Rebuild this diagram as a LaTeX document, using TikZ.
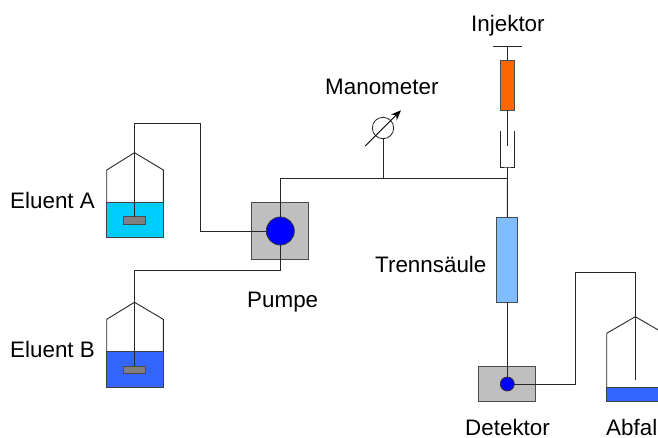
\documentclass[tikz,border=0pt]{standalone}
\usepackage{fontspec}
\setmainfont{Liberation Sans}
\usetikzlibrary{arrows.meta}
\tikzset{
  tube/.style={draw=black!85, line width=0.9pt, line join=miter},
  box/.style={draw=black!70, line width=1pt, inner sep=0pt, outer sep=0pt, rectangle},
  unit/.style={box, fill=black!25},
  pumpdot/.style={draw=black!80, line width=0.8pt, circle, fill=blue, inner sep=0pt, outer sep=0pt},
  filter/.style={box, fill=black!50, minimum width=22pt, minimum height=7.5pt},
  label/.style={anchor=base west, inner sep=0pt, font=\fontsize{22.4}{26}\selectfont},
  liquid/.style={draw=black!75, line width=0.9pt}
}
\definecolor{eluA}{HTML}{00CCFF}
\definecolor{eluB}{HTML}{3366FF}
\definecolor{inj}{HTML}{FF6600}
\definecolor{col}{HTML}{80BDFF}
\begin{document}
\begin{tikzpicture}[x=1pt,y=-1pt]
\useasboundingbox (0,0) rectangle (658,437);
\clip (0,0) rectangle (658,437);
% bottle A
\fill[eluA] (106.7,202.3) rectangle (163.3,237.7);
\draw[liquid] (106.7,202.3) rectangle (163.3,237.7);
\coordinate (apexA) at (134.5,152.7);
\draw[tube] (106.7,202.3) -- (106.7,170) -- (apexA) -- (163.3,170) -- (163.3,202.3);
\node[filter] (filterA) at (134.5,220.3) {};
% bottle B
\fill[eluB] (106.7,351.3) rectangle (163.3,387.3);
\draw[liquid] (106.7,351.3) rectangle (163.3,387.3);
\coordinate (apexB) at (134.5,302.3);
\draw[tube] (106.7,351.3) -- (106.7,319.3) -- (apexB) -- (163.3,319.3) -- (163.3,351.3);
\node[filter] (filterB) at (134.5,369.8) {};
% waste bottle
\fill[eluB] (606.7,387.3) rectangle (670,401.3);
\draw[liquid] (606.7,387.3) rectangle (670,401.3);
\coordinate (apexW) at (635.3,316.7);
\draw[tube] (606.7,387.3) -- (606.7,333.3) -- (apexW) -- (664,333.3) -- (664,387.3);
\coordinate (wasteEnd) at (635.3,380);
% pump
\node[unit, minimum width=57pt, minimum height=56.6pt] (pumpbox) at (280.3,231) {};
\node[pumpdot, minimum size=28pt] (pump) at (280.3,231) {};
% manometer
\node[draw=black!85, line width=0.8pt, circle, minimum size=21.4pt, inner sep=0pt, outer sep=0pt] (mano) at (383,128) {};
\coordinate (arrS) at (365.3,146);
\coordinate (arrE) at (401,110.3);
\draw[black, line width=0.9pt, -{Stealth[length=10pt,width=8pt]}] (arrS) -- (arrE);
% injector
\coordinate (barL) at (493,46);
\coordinate (barR) at (522,46);
\draw[tube] (barL) -- (barR);
\node[box, fill=inj, minimum width=14.4pt, minimum height=50pt] (syringe) at (507.5,85.3) {};
\coordinate (plunger) at (507.5,145.7);
\draw[tube] (507.5,46) -- (syringe.north);
\draw[tube] (syringe.south) -- (plunger);
\coordinate (barrelL) at (500.3,131);
\coordinate (barrelR) at (514.7,131);
\coordinate (barrelB) at (507.5,167);
\draw[tube] (barrelL) |- (barrelB) -| (barrelR);
% column
\node[box, fill=col, minimum width=21pt, minimum height=85.3pt] (column) at (507.3,259.7) {};
% detector
\node[unit, minimum width=57pt, minimum height=35.3pt] (detbox) at (506.8,383.7) {};
\node[pumpdot, minimum size=14pt] (det) at (507.3,384) {};
% bends and junctions
\coordinate (a1) at (134.5,123.5);
\coordinate (a2) at (200.3,123.5);
\coordinate (a3) at (200.3,231);
\coordinate (b1) at (134.5,270.3);
\coordinate (b2) at (280.3,270.3);
\coordinate (c1) at (280.3,178);
\coordinate (j1) at (383,178);
\coordinate (j2) at (507.5,178);
\coordinate (d1) at (575,384);
\coordinate (d2) at (575,272.3);
\coordinate (d3) at (635.3,272.3);
% connectors
\draw[tube] (filterA.north) -- (a1) -- (a2) -- (a3) -- (pump.west);
\draw[tube] (filterB.north) -- (b1) -- (b2) -- (pump.south);
\draw[tube] (pump.north) -- (c1) -- (j2);
\draw[tube] (mano.south) -- (j1);
\draw[tube] (barrelB) -- (column.north);
\draw[tube] (column.south) -- (det.north);
\draw[tube] (det.east) -- (d1) -- (d2) -- (d3) -- (wasteEnd);
% labels
\node[label] (lEA) at (10,208) {Eluent A};
\node[label] (lEB) at (10,357) {Eluent B};
\node[label] (lP) at (247,307) {Pumpe};
\node[label] (lM) at (325,94) {Manometer};
\node[label] (lI) at (471,31) {Injektor};
\node[label] (lT) at (375,272) {Trennsäule};
\node[label] (lD) at (465,435.3) {Detektor};
\node[label] (lW) at (606,435.3) {Abfal};
\end{tikzpicture}
\end{document}
